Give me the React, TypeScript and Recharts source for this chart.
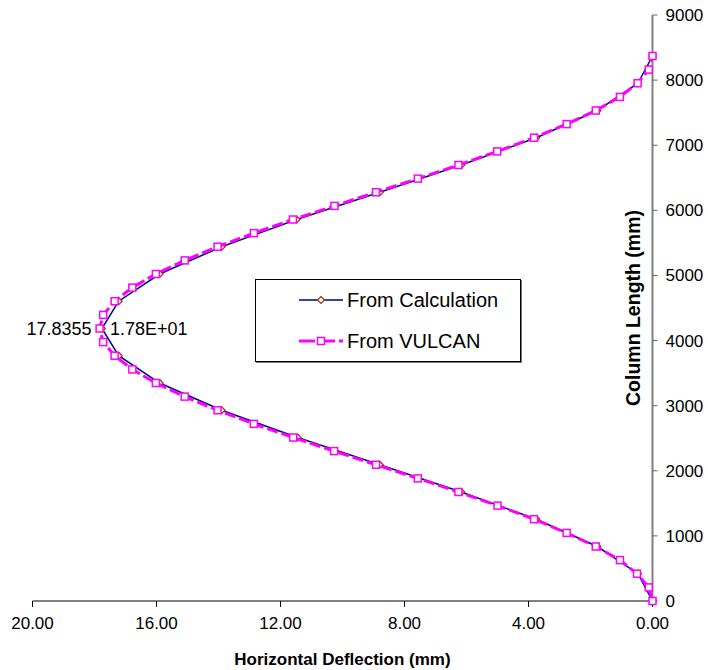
import React from 'react';
import { ScatterChart, Scatter, XAxis, YAxis, Legend } from 'recharts';

const FONT = '"Liberation Sans", Arial, sans-serif';

// VULCAN output, bottom of column to top (mm)
const vulcanLength = [
  0, 209, 419, 628, 837, 1046, 1256, 1465, 1674, 1883, 2093, 2302, 2511, 2720,
  2930, 3139, 3348, 3557, 3767, 3976, 4185, 4394, 4604, 4813, 5022, 5231, 5441,
  5650, 5859, 6068, 6278, 6487, 6696, 6905, 7115, 7324, 7533, 7742, 7952, 8161,
  8370,
];
const vulcanDeflection = [
  0.0, 0.12, 0.5, 1.05, 1.83, 2.77, 3.82, 5.0, 6.26, 7.57, 8.92, 10.27, 11.59,
  12.86, 14.03, 15.09, 16.02, 16.78, 17.35, 17.72, 17.8355, 17.72, 17.35, 16.78,
  16.02, 15.09, 14.03, 12.86, 11.6, 10.26, 8.92, 7.57, 6.26, 5.01, 3.82, 2.77,
  1.83, 1.05, 0.48, 0.12, 0.0,
];

// hand calculation
const calcLength = [
  0, 419, 837, 1256, 1674, 2093, 2511, 2930, 3348, 3767, 4185, 4604, 5022, 5441,
  5859, 6278, 6696, 7115, 7533, 7952, 8370,
];
const calcDeflection = [
  0.0, 0.47, 1.78, 3.75, 6.17, 8.8, 11.45, 13.9, 15.9, 17.22, 17.76, 17.22, 15.9,
  13.9, 11.48, 8.8, 6.17, 3.75, 1.78, 0.47, 0.0,
];

const xTicks = [20, 16, 12, 8, 4, 0];
const yTicks = [0, 1000, 2000, 3000, 4000, 5000, 6000, 7000, 8000, 9000];

const apexLength = 4185;
const vulcanApexLabel = '17.8355';
const calcApexLabel = '1.78E+01';

const NAVY = '#000080';
const BROWN = '#993300';
const MAGENTA = '#FF00FF';

const vulcanData = vulcanLength.map((y, i) => ({ x: vulcanDeflection[i], y }));
const calcData = calcLength.map((y, i) => ({ x: calcDeflection[i], y }));

const labelStyle = { fontFamily: FONT, fontSize: 18, fill: '#000' };

const VulcanPoint = (p: any) => {
  const { cx, cy, payload } = p;
  return (
    <g>
      <rect x={cx - 3.5} y={cy - 3.5} width={7} height={7} fill="#fff" stroke={MAGENTA} strokeWidth={1.5} />
      {payload && payload.y === apexLength && (
        <text x={cx - 8} y={cy} textAnchor="end" dominantBaseline="central" style={labelStyle}>
          {vulcanApexLabel}
        </text>
      )}
    </g>
  );
};

const CalcPoint = (p: any) => {
  const { cx, cy, payload } = p;
  return (
    <g>
      <path d={`M${cx},${cy - 3.5}L${cx + 3.5},${cy}L${cx},${cy + 3.5}L${cx - 3.5},${cy}Z`} fill="#fff" stroke={BROWN} strokeWidth={1.2} />
      {payload && payload.y === apexLength && (
        <text x={cx + 8} y={cy} textAnchor="start" dominantBaseline="central" style={labelStyle}>
          {calcApexLabel}
        </text>
      )}
    </g>
  );
};

const LegendBox = () => (
  <div
    style={{
      position: 'relative',
      width: 266,
      height: 83,
      boxSizing: 'border-box',
      border: '1px solid #000',
      boxShadow: '1px 1px 0 #777',
      background: '#fff',
      fontFamily: FONT,
      fontSize: 20,
      color: '#000',
    }}
  >
    <svg width={50} height={14} style={{ position: 'absolute', left: 41, top: 13 }}>
      <line x1={2} y1={7} x2={46} y2={7} stroke={NAVY} strokeWidth={1.5} />
      <path d="M24,3.5L27.5,7L24,10.5L20.5,7Z" fill="#fff" stroke={BROWN} strokeWidth={1.2} />
    </svg>
    <div style={{ position: 'absolute', left: 91, top: 9, lineHeight: '22px' }}>From Calculation</div>
    <svg width={50} height={14} style={{ position: 'absolute', left: 41, top: 54 }}>
      <line x1={2} y1={7} x2={46} y2={7} stroke={MAGENTA} strokeWidth={3} strokeDasharray="16 4" />
      <rect x={20.5} y={3.5} width={7} height={7} fill="#fff" stroke={MAGENTA} strokeWidth={1.5} />
    </svg>
    <div style={{ position: 'absolute', left: 91, top: 50, lineHeight: '22px' }}>From VULCAN</div>
  </div>
);

const tickStyle = { fontFamily: FONT, fontSize: 17, fill: '#000' };
const xTitleStyle = { fontFamily: FONT, fontSize: 17, fontWeight: 'bold', fill: '#000' };
const yTitleStyle = { fontFamily: FONT, fontSize: 19.5, fontWeight: 'bold', fill: '#000' };

export default function App() {
  return (
    <div style={{ position: 'absolute', left: 0, top: 0, width: 708, height: 670, background: '#fff' }}>
      <ScatterChart width={708} height={670} margin={{ top: 15, right: 5.5, left: 32.5, bottom: 5 }}>
        <XAxis
          dataKey="x"
          type="number"
          domain={[0, 20]}
          ticks={xTicks}
          reversed
          height={64}
          tickFormatter={(v: number) => v.toFixed(2)}
          tick={tickStyle}
          tickSize={6}
          tickMargin={10}
          axisLine={{ stroke: '#000', strokeWidth: 1 }}
          tickLine={{ stroke: '#000' }}
          label={{ value: 'Horizontal Deflection (mm)', position: 'insideBottom', offset: 0, style: xTitleStyle }}
        />
        <YAxis
          dataKey="y"
          type="number"
          orientation="right"
          domain={[0, 9000]}
          ticks={yTicks}
          width={50}
          tick={{ ...tickStyle, textAnchor: 'start' }}
          tickSize={5}
          tickMargin={8}
          axisLine={{ stroke: '#808080', strokeWidth: 2 }}
          tickLine={{ stroke: '#666' }}
          label={(props: any) => {
            const vb = props.viewBox || {};
            const x = vb.x - 20;
            const y = vb.y + vb.height / 2;
            return (
              <text
                x={x}
                y={y}
                transform={`rotate(-90, ${x}, ${y})`}
                textAnchor="middle"
                dominantBaseline="central"
                style={yTitleStyle}
              >
                Column Length (mm)
              </text>
            );
          }}
        />
        <Legend
          layout="horizontal"
          verticalAlign="middle"
          align="center"
          wrapperStyle={{ left: 255, top: 279, width: 266, height: 83 }}
          content={() => <LegendBox />}
        />
        <Scatter
          name="From Calculation"
          data={calcData}
          fill={NAVY}
          line={{ stroke: NAVY, strokeWidth: 1.5 }}
          lineType="joint"
          shape={CalcPoint}
          isAnimationActive={false}
        />
        <Scatter
          name="From VULCAN"
          data={vulcanData}
          fill={MAGENTA}
          line={{ stroke: MAGENTA, strokeWidth: 3, strokeDasharray: '11 4' }}
          lineType="joint"
          shape={VulcanPoint}
          isAnimationActive={false}
        />
      </ScatterChart>
    </div>
  );
}
